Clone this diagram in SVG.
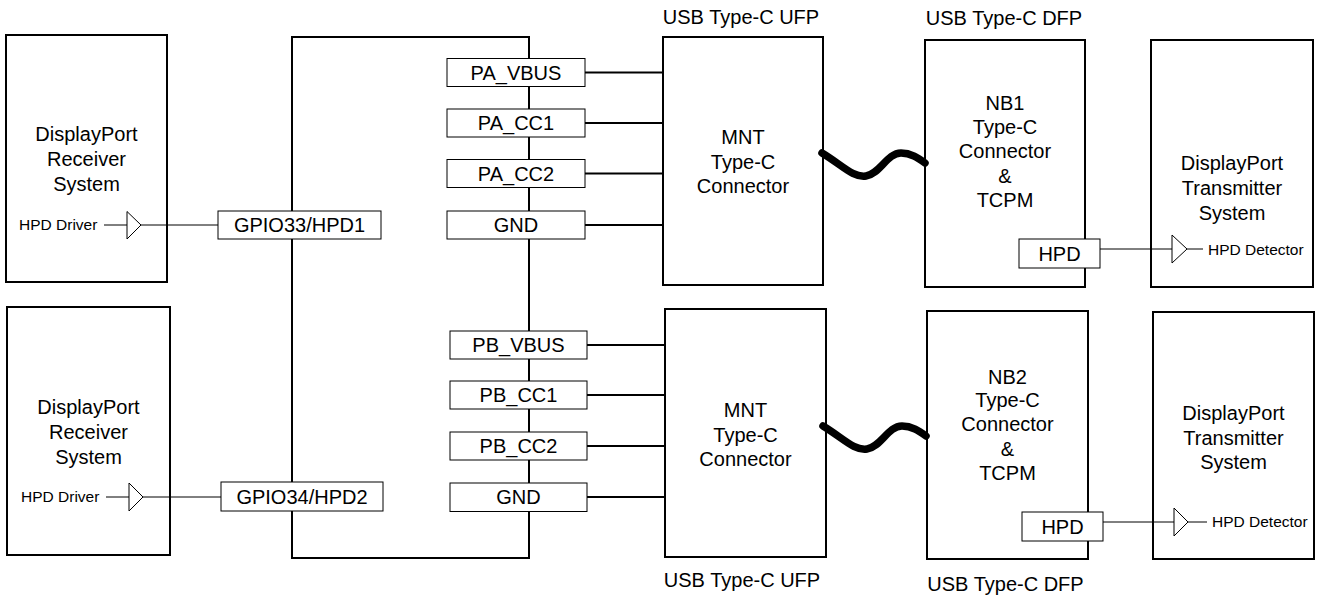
<svg xmlns="http://www.w3.org/2000/svg" width="1320" height="596" viewBox="0 0 1320 596">
<style>
text{font-family:"Liberation Sans",Arial,sans-serif;fill:#000}
.t{font-size:20px;text-anchor:middle}
.s{font-size:15.5px}
.h{font-size:20px;text-anchor:middle}
.box{fill:none;stroke:#000;stroke-width:2}
.pin{fill:#fff;stroke:#000;stroke-width:1}
.w2{fill:none;stroke:#000;stroke-width:2}
.w1{fill:none;stroke:#000;stroke-width:1}
.wave{fill:none;stroke:#000;stroke-width:7.5;stroke-linecap:round}
.tri{fill:#fff;stroke:#000;stroke-width:1}
</style>
<rect width="1320" height="596" fill="#fff"/>

<g id="rx1">
  <rect class="box" x="6" y="35" width="161" height="247"/>
  <text class="t" x="86.5" y="140.5">DisplayPort</text>
  <text class="t" x="86.5" y="166">Receiver</text>
  <text class="t" x="86.5" y="191">System</text>
  <text class="s" x="19" y="230">HPD Driver</text>
  <path class="tri" d="M127 211.5V239L141 225Z"/>
</g>

<g id="rx2">
  <rect class="box" x="7" y="307" width="163" height="248"/>
  <text class="t" x="88.5" y="414">DisplayPort</text>
  <text class="t" x="88.5" y="439">Receiver</text>
  <text class="t" x="88.5" y="463.5">System</text>
  <text class="s" x="21" y="502">HPD Driver</text>
  <path class="tri" d="M129 483V511L143 497Z"/>
</g>

<g id="controller">
  <rect class="box" x="292" y="37" width="237" height="521"/>
</g>

<g id="gpio33">
  <rect class="pin" x="218" y="211" width="163" height="28"/>
  <text class="t" x="299.5" y="232">GPIO33/HPD1</text>
</g>
<g id="gpio34">
  <rect class="pin" x="221" y="482" width="162" height="29"/>
  <text class="t" x="302" y="503.5">GPIO34/HPD2</text>
</g>

<g id="pa_vbus"><rect class="pin" x="447" y="58.5" width="138" height="28"/><text class="t" x="516" y="79.5">PA_VBUS</text></g>
<g id="pa_cc1"><rect class="pin" x="447" y="109" width="138" height="28"/><text class="t" x="516" y="130">PA_CC1</text></g>
<g id="pa_cc2"><rect class="pin" x="447" y="159.5" width="138" height="28"/><text class="t" x="516" y="180.5">PA_CC2</text></g>
<g id="pa_gnd"><rect class="pin" x="447" y="211" width="138" height="28"/><text class="t" x="516" y="232">GND</text></g>

<g id="pb_vbus"><rect class="pin" x="450" y="331" width="137" height="28"/><text class="t" x="518.5" y="352">PB_VBUS</text></g>
<g id="pb_cc1"><rect class="pin" x="450" y="381" width="137" height="28"/><text class="t" x="518.5" y="402">PB_CC1</text></g>
<g id="pb_cc2"><rect class="pin" x="450" y="432" width="137" height="28"/><text class="t" x="518.5" y="453">PB_CC2</text></g>
<g id="pb_gnd"><rect class="pin" x="450" y="483" width="137" height="28.5"/><text class="t" x="518.5" y="504">GND</text></g>

<g id="mnt1">
  <text class="h" x="741" y="23.5">USB Type-C UFP</text>
  <rect class="box" x="663" y="37" width="160" height="248"/>
  <text class="t" x="743" y="144">MNT</text>
  <text class="t" x="743" y="168.5">Type-C</text>
  <text class="t" x="743" y="193">Connector</text>
</g>
<g id="mnt2">
  <rect class="box" x="665" y="309" width="161" height="248"/>
  <text class="t" x="745.5" y="416.5">MNT</text>
  <text class="t" x="745.5" y="441.5">Type-C</text>
  <text class="t" x="745.5" y="466">Connector</text>
  <text class="h" x="742" y="586.5">USB Type-C UFP</text>
</g>

<g id="nb1">
  <text class="h" x="1004" y="25">USB Type-C DFP</text>
  <rect class="box" x="925" y="40" width="160" height="247"/>
  <text class="t" x="1005" y="109.5">NB1</text>
  <text class="t" x="1005" y="133.5">Type-C</text>
  <text class="t" x="1005" y="158">Connector</text>
  <text class="t" x="1005" y="182.5">&amp;</text>
  <text class="t" x="1005" y="207">TCPM</text>
</g>
<g id="hpd1">
  <rect class="pin" x="1019" y="239" width="81" height="29"/>
  <text class="t" x="1059.5" y="261">HPD</text>
</g>

<g id="nb2">
  <rect class="box" x="927" y="311" width="161" height="248"/>
  <text class="t" x="1007.5" y="383.5">NB2</text>
  <text class="t" x="1007.5" y="407">Type-C</text>
  <text class="t" x="1007.5" y="431">Connector</text>
  <text class="t" x="1007.5" y="455.5">&amp;</text>
  <text class="t" x="1007.5" y="480">TCPM</text>
  <text class="h" x="1005.5" y="591">USB Type-C DFP</text>
</g>
<g id="hpd2">
  <rect class="pin" x="1022" y="512" width="81" height="29"/>
  <text class="t" x="1062.5" y="534">HPD</text>
</g>

<g id="tx1">
  <rect class="box" x="1151" y="40" width="162" height="247"/>
  <text class="t" x="1232" y="169.5">DisplayPort</text>
  <text class="t" x="1232" y="195">Transmitter</text>
  <text class="t" x="1232" y="220">System</text>
  <path class="tri" d="M1172 235V263L1187 249Z"/>
  <text class="s" x="1208" y="254.5">HPD Detector</text>
</g>
<g id="tx2">
  <rect class="box" x="1153" y="312" width="161" height="247"/>
  <text class="t" x="1233.5" y="420">DisplayPort</text>
  <text class="t" x="1233.5" y="445">Transmitter</text>
  <text class="t" x="1233.5" y="469">System</text>
  <path class="tri" d="M1174 508V536L1188 522Z"/>
  <text class="s" x="1212" y="527">HPD Detector</text>
</g>

<g id="connectors">
  <path class="w2" d="M585 72.5H663M585 123H663M585 173.5H663M585 225H663"/>
  <path class="w2" d="M587 345H665M587 395H665M587 446H665M587 497H665"/>
  <path class="w1" d="M104 225H127M141 225H218"/>
  <path class="w1" d="M106 497H129M143 497H221"/>
  <path class="w1" d="M1100 249H1172M1187 249H1203"/>
  <path class="w1" d="M1103 522H1174M1188 522H1207"/>
  <path class="wave" d="M822 153C842 165 853 178 866 176C880 174 887 153 901 153C911 153 918 158 925 163"/>
  <path class="wave" d="M823 426C843 438 854 451 867 449C881 447 888 426 902 426C912 426 919 431 926 436"/>
</g>
</svg>
